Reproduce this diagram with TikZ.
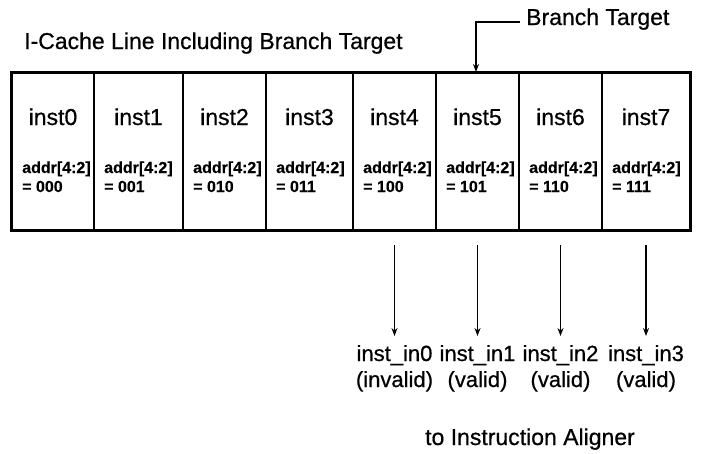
\documentclass[tikz,border=0pt]{standalone}
\usepackage{fontspec}
\setmainfont{Liberation Sans}
\newfontfamily\heavy{Liberation Sans}[FakeBold=0.6]
\newfontfamily\heavysmall{Liberation Sans Bold}[FakeBold=0.3]
\usetikzlibrary{fit,arrows.meta}
\tikzset{
  cell/.style={draw=black, line width=1.6pt, inner sep=0pt},
  big/.style={inner sep=0pt, font=\heavy\fontsize{23}{27}\selectfont},
  mid/.style={inner sep=0pt, font=\heavy\fontsize{22}{26}\selectfont},
  small/.style={inner sep=0pt, font=\heavysmall\fontsize{16}{19}\selectfont},
  arr/.style={draw=black, line width=1.5pt, -{Stealth[length=8pt,width=6pt]}},
}
\begin{document}
\begin{tikzpicture}[x=1pt,y=-1pt]
\useasboundingbox (0,0) rectangle (703,453);
\fill[white] (0,0) rectangle (703,453);
% title
\node[big, anchor=base west] (title) at (24,49) {I-Cache Line Including Branch Target};
\node[big, anchor=base west] (bt) at (526,25) {Branch Target};
% cells
\foreach \i/\l/\r/\v in {0/12/94/000,1/94/183/001,2/183/266/010,3/266/353/011,4/353/436/100,5/436/519/101,6/519/602/110,7/602/690/111}{
  \node[cell, fit={(\l,73) (\r,230)}] (c\i) {};
  \node[big, anchor=base] (n\i) at ({(\l+\r)/2},125) {inst\i};
  \node[small, anchor=base west] (a\i) at ({\l+10},173) {addr[4:2]};
  \node[small, anchor=base west] (v\i) at ({\l+10},192) {= \v};
}
\draw[line width=2pt] (c0.north west) rectangle (c7.south east);
% branch target arrow
\coordinate (btstart) at (520,22);
\coordinate (bttip) at (476,72);
\draw[arr] (btstart) -| (bttip);
% outputs
\foreach \k/\c/\x/\s in {0/4/394.5/invalid,1/5/477.5/valid,2/6/560.5/valid,3/7/646/valid}{
  \coordinate (s\k) at (\x,245);
  \coordinate (t\k) at (\x,336);
  \draw[arr] (s\k) -- (t\k);
  \node[mid, anchor=base] (o\k) at (\x,361) {inst\_in\k};
  \node[mid, anchor=base] (p\k) at (\x,387) {(\s)};
}
\node[big, anchor=base] (aligner) at (530,445) {to Instruction Aligner};
\end{tikzpicture}
\end{document}
